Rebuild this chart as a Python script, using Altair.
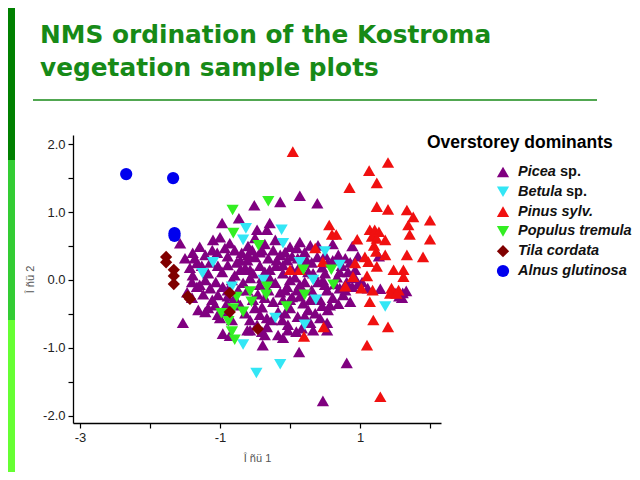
import altair as alt
import pandas as pd

# ---------------- data ----------------
species = ["Picea sp.", "Betula sp.", "Pinus sylv.", "Populus tremula", "Tila cordata", "Alnus glutinosa"]
genus_text = ["Picea", "Betula", "Pinus sylv.", "Populus tremula", "Tila cordata", "Alnus glutinosa"]
colors = ["#800080", "#33e6f5", "#f01010", "#33ee22", "#800000", "#0000ee"]
shapes = ["triangle-up", "triangle-down", "triangle-up", "triangle-down", "diamond", "circle"]
marker_sizes = [150, 150, 150, 150, 65, 150]

picea = [
    (-1.53, -0.63), (-1.31, -0.44), (-1.47, -0.18), (-0.96, -0.79), (-0.39, -0.96), (-0.61, -0.74),
    (-0.17, -0.81), (-0.03, -0.74), (0.13, -1.06), (0.47, -1.78), (0.81, -1.22), (0.33, -0.74),
    (0.53, -0.74), (-0.51, 1.10), (-0.73, 0.91), (-0.97, 0.84), (-0.47, 0.74), (-0.86, 0.54),
    (-1.10, 0.59), (-1.57, 0.54), (-1.39, 0.40), (0.14, 1.24), (-0.14, 1.15), (0.39, 1.13),
    (0.89, 0.50), (1.27, 0.35), (0.61, 0.53), (-0.29, 0.84), (-0.33, 0.74), (1.29, -0.13),
    (1.61, -0.19), (1.60, -0.26), (1.50, -0.19), (1.56, -0.24), (1.66, -0.16), (-1.21, 0.37),
    (-1.04, 0.40), (-0.69, 0.40), (-0.43, 0.41), (-0.24, 0.44), (-1.33, 0.25), (-1.14, 0.26),
    (-0.76, 0.26), (-0.61, 0.29), (-0.19, 0.29), (-1.39, 0.07), (-1.17, 0.10), (-0.97, 0.12),
    (-0.71, 0.15), (-0.53, 0.10), (-0.29, 0.15), (-0.10, 0.10), (-1.33, -0.10), (-1.14, -0.12),
    (-0.96, -0.10), (-0.67, -0.04), (-0.43, -0.07), (-0.21, -0.04), (-1.11, -0.29), (-0.90, -0.34),
    (-0.53, -0.29), (-0.24, -0.32), (-1.00, -0.56), (-0.64, -0.49), (-0.43, -0.51), (-0.17, -0.47),
    (-0.86, -0.82), (-0.57, -0.74), (-0.33, -0.69), (-0.10, -0.85), (0.00, 0.49), (0.10, 0.47),
    (0.24, 0.29), (-0.04, 0.29), (0.39, 0.34), (0.61, 0.29), (0.03, 0.15), (0.07, 0.04),
    (0.33, 0.10), (0.47, 0.00), (0.67, 0.04), (0.81, -0.03), (0.89, -0.10), (0.71, -0.12),
    (0.53, -0.15), (0.31, -0.15), (0.10, -0.15), (-0.04, -0.10), (0.00, -0.29), (0.19, -0.34),
    (0.43, -0.29), (0.61, -0.26), (0.76, -0.22), (0.54, -0.44), (0.36, -0.49), (0.11, -0.54),
    (-0.07, -0.49), (0.29, -0.63), (-0.03, -0.66), (0.53, -0.63), (-1.29, 0.49), (-0.93, 0.47),
    (-0.60, 0.50), (-0.36, 0.53), (0.14, 0.56), (0.40, 0.51), (-1.50, 0.32), (-0.89, 0.35),
    (-0.50, 0.34), (-0.31, 0.32), (0.03, 0.35), (0.21, 0.41), (0.50, 0.37), (0.79, 0.32),
    (0.97, 0.35), (-1.26, 0.21), (-1.03, 0.21), (-0.43, 0.21), (-0.20, 0.21), (0.14, 0.21),
    (0.46, 0.19), (0.74, 0.21), (0.83, 0.12), (1.03, -0.03), (-1.21, 0.00), (-1.06, -0.03),
    (-0.83, 0.00), (-0.40, 0.03), (0.00, 0.00), (0.21, -0.03), (0.40, -0.03), (0.64, -0.06),
    (0.97, -0.06), (1.11, -0.12), (-1.24, -0.21), (-1.03, -0.22), (-0.74, -0.15), (-0.46, -0.21),
    (-0.14, -0.18), (0.14, -0.24), (0.86, -0.32), (-1.07, -0.37), (-0.71, -0.37), (-0.40, -0.40),
    (0.00, -0.41), (0.26, -0.44), (0.46, -0.38), (0.69, -0.35), (-0.83, -0.59), (-0.57, -0.59),
    (-0.26, -0.59), (0.17, -0.71), (0.43, -0.56), (-0.40, -0.76), (0.09, -0.76), (-1.40, -0.03),
    (-1.03, -0.51), (-0.36, -0.81), (-0.47, -0.66), (-0.33, -0.56), (-1.00, 0.63), (-0.50, 0.62),
    (-0.40, 0.44), (-0.60, 0.37), (-0.71, 0.29), (-0.57, 0.15), (-0.79, 0.07), (-0.61, -0.15),
    (-0.31, -0.15), (-0.89, -0.24), (-0.10, -0.29), (0.29, -0.29), (0.50, 0.10), (0.29, 0.51),
    (-0.14, 0.37), (-0.21, 0.59), (0.93, 0.15), (-1.21, -0.47), (-1.40, -0.26),
    (-1.36, 0.32), (-1.11, 0.44), (-0.79, 0.44), (-0.54, 0.44), (-0.07, 0.41), (0.11, 0.32),
    (0.31, 0.26), (0.69, 0.37), (0.86, 0.26), (-1.43, 0.18), (-0.89, 0.22), (-0.64, 0.18),
    (-0.36, 0.12), (-0.10, 0.22), (0.26, 0.12), (0.54, 0.26), (0.71, 0.12), (0.93, 0.03),
    (-1.29, -0.07), (-0.89, -0.15), (-0.57, 0.03), (-0.29, 0.03), (-0.07, -0.15), (0.14, -0.07),
    (0.50, -0.07), (0.79, -0.15), (-1.17, -0.41), (-0.79, -0.26), (-0.36, -0.26), (0.03, -0.25),
    (0.31, -0.26), (0.57, -0.37), (-0.93, -0.47), (-0.50, -0.41), (-0.11, -0.59), (0.21, -0.53),
]

pinus = [
    (0.04, 1.89), (1.40, 1.73), (1.13, 1.61), (1.24, 1.43), (0.85, 1.36), (1.24, 1.08),
    (1.40, 1.04), (1.67, 1.03), (1.76, 0.93), (2.00, 0.88), (1.69, 0.81), (1.71, 0.67),
    (2.00, 0.60), (0.56, 0.81), (0.60, 0.67), (0.66, 0.67), (0.96, 0.60), (1.14, 0.74),
    (1.21, 0.74), (1.27, 0.71), (1.17, 0.64), (1.24, 0.61), (1.36, 0.59), (1.20, 0.51),
    (1.23, 0.42), (1.07, 0.34), (1.36, 0.37), (1.67, 0.37), (1.90, 0.34), (1.12, 0.27),
    (1.48, 0.15), (1.62, 0.15), (1.62, 0.05), (1.24, 0.20), (0.93, 0.25), (0.36, 0.47),
    (0.47, 0.27), (0.14, 0.15), (0.00, 0.15), (0.90, 0.05), (1.10, 0.06), (1.02, -0.12),
    (1.14, -0.32), (1.45, -0.12), (1.55, -0.15), (1.43, -0.20), (1.52, -0.20), (1.18, -0.15),
    (1.19, -0.59), (1.40, -0.69), (0.20, -0.83), (0.48, -0.69), (1.10, -0.96), (1.29, -1.72),
    (0.79, -0.09),
]

betula = [
    (-0.63, 0.76), (-0.67, 0.59), (-1.25, 0.10), (-0.12, 0.74), (-0.10, 0.54), (-0.38, 0.00),
    (0.50, 0.42), (0.71, 0.22), (0.33, 0.00), (1.36, -0.39), (0.21, -0.66), (-0.48, -1.37),
    (-0.14, -1.24), (-0.67, -0.95), (-1.10, 0.26), (-0.83, -0.10), (0.14, 0.26), (0.37, -0.29),
    (-0.21, -0.56),
]

populus = [
    (-0.82, 1.03), (-0.31, 1.16), (-0.81, 0.69), (-0.45, 0.51), (-0.76, -0.25), (-0.81, -0.42),
    (-0.88, -0.61), (-0.83, -0.76), (-0.79, -0.88), (-0.57, -0.17), (-0.55, -0.32), (-0.67, -0.47),
    (-0.98, -0.49), (-0.33, -0.10), (-0.34, -0.22), (0.59, 0.15), (0.19, 0.15), (0.62, -0.07),
    (0.21, -0.22), (-0.05, -0.39),
]

tila = [
    (-1.77, 0.34), (-1.77, 0.26), (-1.66, 0.15), (-1.66, 0.06), (-1.66, -0.06), (-1.46, -0.24),
    (-1.43, -0.28), (-0.86, -0.19), (-0.86, -0.47), (-0.46, -0.72),
]

alnus = [(-2.34, 1.56), (-1.67, 1.50), (-1.65, 0.69), (-1.65, 0.65)]

x_ticks = [-3, -2, -1, 0, 1, 2]
y_ticks = [-2.0, -1.5, -1.0, -0.5, 0.0, 0.5, 1.0, 1.5, 2.0]

title_lines = ["NMS ordination of the Kostroma", "vegetation sample plots"]
legend_title = "Overstorey dominants"

# ---------------- build tables ----------------
rows = []
for name, pts in [("Picea sp.", picea), ("Pinus sylv.", pinus), ("Betula sp.", betula),
                  ("Populus tremula", populus), ("Tila cordata", tila), ("Alnus glutinosa", alnus)]:
    for (a, b) in pts:
        rows.append({"ax1": a, "ax2": b, "species": name})
df = pd.DataFrame(rows)
df["order"] = range(len(df))

legend_df = pd.DataFrame({"species": species, "genus": genus_text})
one = pd.DataFrame({"a": [0]})

color_scale = alt.Scale(domain=species, range=colors)
shape_scale = alt.Scale(domain=species, range=shapes)
size_scale = alt.Scale(domain=species, range=marker_sizes)

FONT = "Liberation Sans"
GREEN = "#178a17"

# ---------------- decorations ----------------
bar1 = alt.Chart(one).mark_rect(color="#008000").encode(
    x=alt.value(-73), x2=alt.value(-58), y=alt.value(-135), y2=alt.value(25))
bar2 = alt.Chart(one).mark_rect(color="#33cc33").encode(
    x=alt.value(-73), x2=alt.value(-58), y=alt.value(25), y2=alt.value(185))
bar3 = alt.Chart(one).mark_rect(color="#66ff33").encode(
    x=alt.value(-73), x2=alt.value(-58), y=alt.value(185), y2=alt.value(345))

t1 = alt.Chart(one).mark_text(
    text=title_lines[0], align="left", baseline="alphabetic", font="DejaVu Sans",
    fontWeight="bold", fontSize=24.8, color=GREEN).encode(x=alt.value(-33), y=alt.value(-92))
t2 = alt.Chart(one).mark_text(
    text=title_lines[1], align="left", baseline="alphabetic", font="DejaVu Sans",
    fontWeight="bold", fontSize=24.8, color=GREEN).encode(x=alt.value(-33), y=alt.value(-59))
hr = alt.Chart(one).mark_rule(color=GREEN, strokeWidth=1.5).encode(
    x=alt.value(-40), x2=alt.value(524), y=alt.value(-35))

# ---------------- scatter ----------------
scatter = alt.Chart(df).mark_point(filled=True, opacity=1, strokeWidth=0).encode(
    x=alt.X("ax1:Q", scale=alt.Scale(domain=[-3.1, 2.157], nice=False, zero=False),
            axis=alt.Axis(values=x_ticks, grid=False, tickSize=5, tickColor="#000",
                          domainColor="#000", domainWidth=1.3, tickWidth=1.2,
                          labelExpr="abs(datum.value % 2) == 1 ? replace(datum.label, '\u2212', '-') : ''",
                          labelFont=FONT, labelFontSize=13, labelColor="#222", labelPadding=3,
                          title="Î ñü 1", titleFont=FONT, titleFontSize=11,
                          titleFontWeight="normal", titleColor="#555", titlePadding=8)),
    y=alt.Y("ax2:Q", scale=alt.Scale(domain=[-2.106, 2.135], nice=False, zero=False),
            axis=alt.Axis(values=y_ticks, grid=False, tickSize=5, tickColor="#000",
                          domainColor="#000", domainWidth=1.3, tickWidth=1.2,
                          labelExpr="datum.value % 1 == 0 ? replace(format(datum.value, '.1f'), '\u2212', '-') : ''",
                          labelFont=FONT, labelFontSize=13, labelColor="#222", labelPadding=3,
                          title="Î ñü 2", titleFont=FONT, titleFontSize=11,
                          titleFontWeight="normal", titleColor="#555", titlePadding=7)),
    color=alt.Color("species:N", scale=color_scale, legend=None),
    shape=alt.Shape("species:N", scale=shape_scale, legend=None),
    size=alt.Size("species:N", scale=size_scale, legend=None),
    order=alt.Order("order:Q"),
)

# ---------------- custom legend ----------------
leg_y = alt.Y("species:N", scale=alt.Scale(domain=species, range=[37, 136], padding=0), axis=None)

leg_title = alt.Chart(one).mark_text(
    text=legend_title, align="left", baseline="middle", font=FONT, fontWeight="bold",
    fontSize=17.5, color="#000").encode(x=alt.value(354), y=alt.value(8))

leg_pts = alt.Chart(legend_df).mark_point(filled=True, opacity=1, strokeWidth=0).encode(
    x=alt.value(430), y=leg_y,
    color=alt.Color("species:N", scale=color_scale, legend=None),
    shape=alt.Shape("species:N", scale=shape_scale, legend=None),
    size=alt.Size("species:N", scale=size_scale, legend=None),
)

LEG_FS = 14.5
leg_txt = alt.Chart(legend_df).mark_text(
    align="left", baseline="middle", font=FONT, fontWeight="bold", fontStyle="italic",
    fontSize=LEG_FS, color="#111").encode(x=alt.value(445), y=leg_y, text="genus:N")

leg_sp1 = alt.Chart(legend_df).transform_filter(alt.datum.species == species[0]).mark_text(
    text="sp.", align="left", baseline="middle", font=FONT, fontWeight="bold",
    fontSize=LEG_FS, color="#111").encode(x=alt.value(487), y=leg_y)
leg_sp2 = alt.Chart(legend_df).transform_filter(alt.datum.species == species[1]).mark_text(
    text="sp.", align="left", baseline="middle", font=FONT, fontWeight="bold",
    fontSize=LEG_FS, color="#111").encode(x=alt.value(493), y=leg_y)

chart = alt.layer(
    bar1, bar2, bar3, t1, t2, hr, scatter, leg_title, leg_pts, leg_txt, leg_sp1, leg_sp2
).resolve_scale(y="independent").properties(
    width=368, height=288,
    padding={"left": 65, "top": 127, "right": 191, "bottom": 49},
    autosize=alt.AutoSizeParams(type="none"),
    background="white",
).configure_view(stroke=None)

chart.save("out.html", embed_options={"renderer": "svg", "actions": False})
